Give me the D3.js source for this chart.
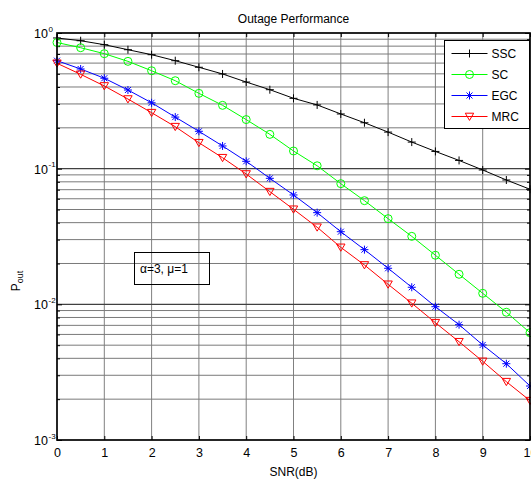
<!DOCTYPE html>
<html>
<head>
<meta charset="utf-8">
<script src="https://cdn.jsdelivr.net/npm/d3@7/dist/d3.min.js"></script>
<style>
body { margin: 0; background: #fff; }
svg { display: block; font-family: "Liberation Sans", Arial, sans-serif; }
</style>
</head>
<body>
<script>
// values at every 0.5 dB
const snrDb = [0, 0.5, 1, 1.5, 2, 2.5, 3, 3.5, 4, 4.5, 5, 5.5, 6, 6.5, 7, 7.5, 8, 8.5, 9, 9.5, 10];
const ssc = [0.919, 0.877, 0.820, 0.753, 0.692, 0.625, 0.559, 0.499, 0.435, 0.382, 0.330,
    0.295, 0.253, 0.218, 0.186, 0.157, 0.134, 0.115, 0.0978, 0.0825, 0.0705];
const sc = [0.851, 0.779, 0.704, 0.618, 0.527, 0.445, 0.359, 0.293, 0.230, 0.179, 0.135,
    0.105, 0.0775, 0.0581, 0.0428, 0.0317, 0.0230, 0.01665, 0.01206, 0.00874, 0.00618];
const egc = [0.625, 0.543, 0.464, 0.380, 0.306, 0.240, 0.1886, 0.147, 0.1133, 0.0849, 0.0640,
    0.0474, 0.0343, 0.0253, 0.01844, 0.01336, 0.00961, 0.00708, 0.00502, 0.00365, 0.00250];
const mrc = [0.598, 0.496, 0.407, 0.326, 0.2586, 0.2039, 0.1553, 0.1204, 0.0913, 0.0677, 0.0502,
    0.0370, 0.0263, 0.0195, 0.01405, 0.01019, 0.00732, 0.00530, 0.00380, 0.00269, 0.00195];

const seriesNames = ['SSC', 'SC', 'EGC', 'MRC'];
const xTicks = [0, 1, 2, 3, 4, 5, 6, 7, 8, 9, 10];
const decades = [1e-3, 1e-2, 1e-1, 1];
const decadeExp = ['-3', '-2', '-1', '0'];

const W = 531, H = 482;
const plotL = 57, plotR = 530, plotT = 33, plotB = 440;

const x = d3.scaleLinear().domain([0, 10]).range([plotL, plotR]);
const y = d3.scaleLog().domain([1e-3, 1]).range([plotB, plotT]);

const minorY = [];
decades.slice(0, 3).forEach(d => {
    for (let k = 2; k <= 9; k++) minorY.push(d * k);
});

const svg = d3.select('body').append('svg')
    .attr('width', W)
    .attr('height', H);

svg.append('rect')
    .attr('width', W)
    .attr('height', H)
    .attr('fill', 'white');

// grid
const grid = svg.append('g').attr('class', 'grid');
grid.selectAll('line.vx')
    .data(xTicks.slice(1, -1))
    .join('line')
    .attr('class', 'vx')
    .attr('x1', d => x(d)).attr('x2', d => x(d))
    .attr('y1', plotT).attr('y2', plotB)
    .attr('stroke', '#808080')
    .attr('stroke-width', 1);
grid.selectAll('line.hminor')
    .data(minorY)
    .join('line')
    .attr('class', 'hminor')
    .attr('x1', plotL).attr('x2', plotR)
    .attr('y1', d => y(d)).attr('y2', d => y(d))
    .attr('stroke', '#7a7a7a')
    .attr('stroke-width', 1);
grid.selectAll('line.hmajor')
    .data(decades.slice(1, 3))
    .join('line')
    .attr('class', 'hmajor')
    .attr('x1', plotL).attr('x2', plotR)
    .attr('y1', d => y(d)).attr('y2', d => y(d))
    .attr('stroke', '#404040')
    .attr('stroke-width', 1.3);

// axes, MATLAB style ticks pointing inward
svg.append('g')
    .attr('transform', `translate(0,${plotB})`)
    .call(d3.axisBottom(x).tickValues(xTicks).tickSizeInner(-4).tickSizeOuter(0).tickPadding(8))
    .call(g => g.select('.domain').remove())
    .call(g => g.selectAll('text').attr('font-size', 12.5).attr('fill', 'black'))
    .call(g => g.attr('font-family', null))
    .call(g => g.selectAll('.tick line').attr('stroke', 'black'));
svg.append('g')
    .attr('transform', `translate(0,${plotT})`)
    .call(d3.axisTop(x).tickValues(xTicks).tickSizeInner(-4).tickSizeOuter(0).tickFormat(''))
    .call(g => g.select('.domain').remove())
    .call(g => g.selectAll('.tick line').attr('stroke', 'black'));

[[d3.axisLeft, plotL], [d3.axisRight, plotR]].forEach(([ax, pos]) => {
    svg.append('g')
        .attr('transform', `translate(${pos},0)`)
        .call(ax(y).tickValues(minorY).tickSizeInner(-3).tickSizeOuter(0).tickFormat(''))
        .call(g => g.select('.domain').remove())
        .call(g => g.selectAll('.tick line').attr('stroke', 'black'));
    svg.append('g')
        .attr('transform', `translate(${pos},0)`)
        .call(ax(y).tickValues(decades).tickSizeInner(-5).tickSizeOuter(0).tickFormat(''))
        .call(g => g.select('.domain').remove())
        .call(g => g.selectAll('.tick line').attr('stroke', 'black'));
});

// decade labels 10^n
const ylab = svg.append('g').attr('font-size', 12.5);
ylab.selectAll('text.base')
    .data(decades)
    .join('text')
    .attr('class', 'base')
    .attr('x', 48)
    .attr('y', d => y(d) + 5)
    .attr('text-anchor', 'end')
    .text('10');
ylab.selectAll('text.exp')
    .data(decades)
    .join('text')
    .attr('class', 'exp')
    .attr('x', 48.5)
    .attr('y', d => y(d) - 1.5)
    .attr('font-size', 8)
    .text((d, i) => decadeExp[i]);

// series
const series = [
    {name: 'SSC', values: ssc, color: '#000000', marker: 'plus'},
    {name: 'SC', values: sc, color: '#00ff00', marker: 'circle'},
    {name: 'EGC', values: egc, color: '#0000ff', marker: 'star'},
    {name: 'MRC', values: mrc, color: '#ff0000', marker: 'tri'}
];

const markerPath = {
    plus: 'M-4,0H4M0,-4V4',
    star: 'M-4,0H4M0,-4V4M-3,-3L3,3M-3,3L3,-3',
    tri: 'M-4.2,-3.3L4.2,-3.3L0,3.9Z',
    circle: d3.symbol().type(d3.symbolCircle).size(Math.PI * 16)()
};

const drawMarker = (sel, m, color) => sel.append('path')
    .attr('d', markerPath[m])
    .attr('fill', 'none')
    .attr('stroke', color)
    .attr('stroke-width', 1);

const line = d3.line()
    .x((d, i) => x(snrDb[i]))
    .y(d => y(d));

series.forEach(s => {
    const g = svg.append('g').attr('class', 'series');
    g.append('path')
        .datum(s.values)
        .attr('d', line)
        .attr('fill', 'none')
        .attr('stroke', s.color)
        .attr('stroke-width', 1);
    s.values.forEach((v, i) => {
        const mg = g.append('g').attr('transform', `translate(${x(snrDb[i])},${y(v)})`);
        drawMarker(mg, s.marker, s.color);
    });
});

// frame
svg.append('rect')
    .attr('x', plotL).attr('y', plotT)
    .attr('width', plotR - plotL).attr('height', plotB - plotT)
    .attr('fill', 'none')
    .attr('stroke', 'black')
    .attr('stroke-width', 1.7);

// legend
const legend = svg.append('g').attr('transform', 'translate(444.5,40.5)');
legend.append('rect')
    .attr('width', 85).attr('height', 88)
    .attr('fill', 'white')
    .attr('stroke', 'black')
    .attr('stroke-width', 1);
series.forEach((s, i) => {
    const ly = 13 + i * 21;
    legend.append('line')
        .attr('x1', 7).attr('x2', 43)
        .attr('y1', ly).attr('y2', ly)
        .attr('stroke', s.color)
        .attr('stroke-width', 1);
    drawMarker(legend.append('g').attr('transform', `translate(25,${ly})`), s.marker, s.color);
    legend.append('text')
        .attr('x', 47).attr('y', ly + 4.5)
        .attr('font-size', 12)
        .text(seriesNames[i]);
});

// parameter box
svg.append('rect')
    .attr('x', 134.5).attr('y', 252.5)
    .attr('width', 75).attr('height', 32)
    .attr('fill', 'none')
    .attr('stroke', 'black')
    .attr('stroke-width', 1);
svg.append('text')
    .attr('x', 140).attr('y', 273)
    .attr('font-size', 12)
    .text('α=3, μ=1');

// title and axis labels
svg.append('text')
    .attr('x', (plotL + plotR) / 2).attr('y', 23)
    .attr('text-anchor', 'middle')
    .attr('font-size', 12)
    .text('Outage Performance');
svg.append('text')
    .attr('x', (plotL + plotR) / 2).attr('y', 476)
    .attr('text-anchor', 'middle')
    .attr('font-size', 12)
    .text('SNR(dB)');
const yl = svg.append('text')
    .attr('transform', 'translate(20,281) rotate(-90)')
    .attr('text-anchor', 'middle')
    .attr('font-size', 12);
yl.append('tspan').text('P');
yl.append('tspan').attr('dy', 3).attr('font-size', 9).text('out');
</script>
</body>
</html>
